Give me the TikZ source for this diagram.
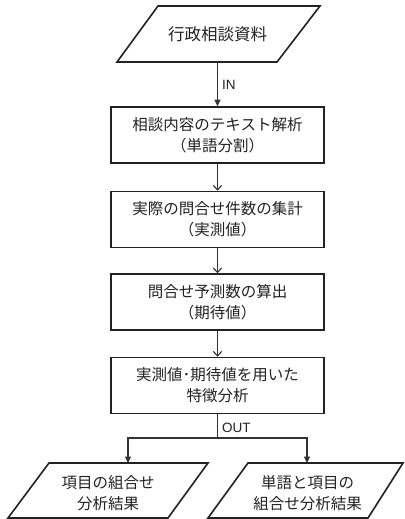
\documentclass[tikz,border=0pt]{standalone}
\usepackage{fontspec}
\setmainfont{Liberation Sans}
\newfontfamily\jp{Noto Sans CJK JP}
\usetikzlibrary{arrows.meta}
\definecolor{ink}{HTML}{222222}
\definecolor{lineink}{HTML}{333333}
\begin{document}
\begin{tikzpicture}[x=1pt,y=-1pt,
  boxstyle/.style={draw=ink,line width=1.6pt,minimum width=213pt,minimum height=56pt,inner sep=0pt,align=center,
    font=\jp\fontsize{15.5}{21}\selectfont,text=ink},
  shapeline/.style={draw=ink,line width=1.6pt,line join=miter},
  txt/.style={align=center,text=ink,inner sep=0pt},
  conn/.style={draw=lineink,line width=1.1pt},
  filledtip/.style={-{Triangle[length=6.5pt,width=6pt]}},
  opentip/.style={-{Straight Barb[length=4.5pt,width=8.5pt,line width=1.1pt]}},
  lbl/.style={font=\fontsize{13.5}{15}\selectfont,text=ink,anchor=west,inner sep=0pt}]
\useasboundingbox (0,0) rectangle (404,519);
% top parallelogram
\draw[shapeline] (158,6) -- (320,6) -- (277,62) -- (117,62) -- cycle;
\node[txt,font=\jp\fontsize{16.5}{21}\selectfont] (src) at (217.5,34) {行政相談資料};
\coordinate (srcbot) at (217.5,62);
% boxes
\node[boxstyle] (b1) at (217.5,135) {相談内容のテキスト解析\\（単語分割）};
\node[boxstyle] (b2) at (217.5,219.5) {実際の問合せ件数の集計\\（実測値）};
\node[boxstyle] (b3) at (217.5,302) {問合せ予測数の算出\\（期待値）};
\node[boxstyle] (b4) at (217.5,385.5) {実測値･期待値を用いた\\特徴分析};
% bottom parallelograms
\draw[shapeline] (49,463) -- (208,463) -- (168,518) -- (8,518) -- cycle;
\draw[shapeline] (248,463) -- (403,463) -- (368,518) -- (208,518) -- cycle;
\node[txt,font=\jp\fontsize{15.5}{20.5}\selectfont] (out1) at (108,493) {項目の組合せ\\分析結果};
\node[txt,font=\jp\fontsize{15.5}{20.5}\selectfont] (out2) at (307.5,493) {単語と項目の\\組合せ分析結果};
\coordinate (out1top) at (128,463);
\coordinate (out2top) at (307,463);
\coordinate (split) at (217.5,438);
% connectors
\draw[conn,filledtip] (srcbot) -- (b1.north);
\node[lbl] (inlbl) at (222,85) {IN};
\draw[conn,opentip] (b1.south) -- (b2.north);
\draw[conn,opentip] (b2.south) -- (b3.north);
\draw[conn,opentip] (b3.south) -- (b4.north);
\draw[conn] (b4.south) -- (split);
\draw[conn,filledtip] (split) -| (out1top);
\draw[conn,filledtip] (split) -| (out2top);
\node[lbl] (outlbl) at (222,428) {OUT};
\end{tikzpicture}
\end{document}
